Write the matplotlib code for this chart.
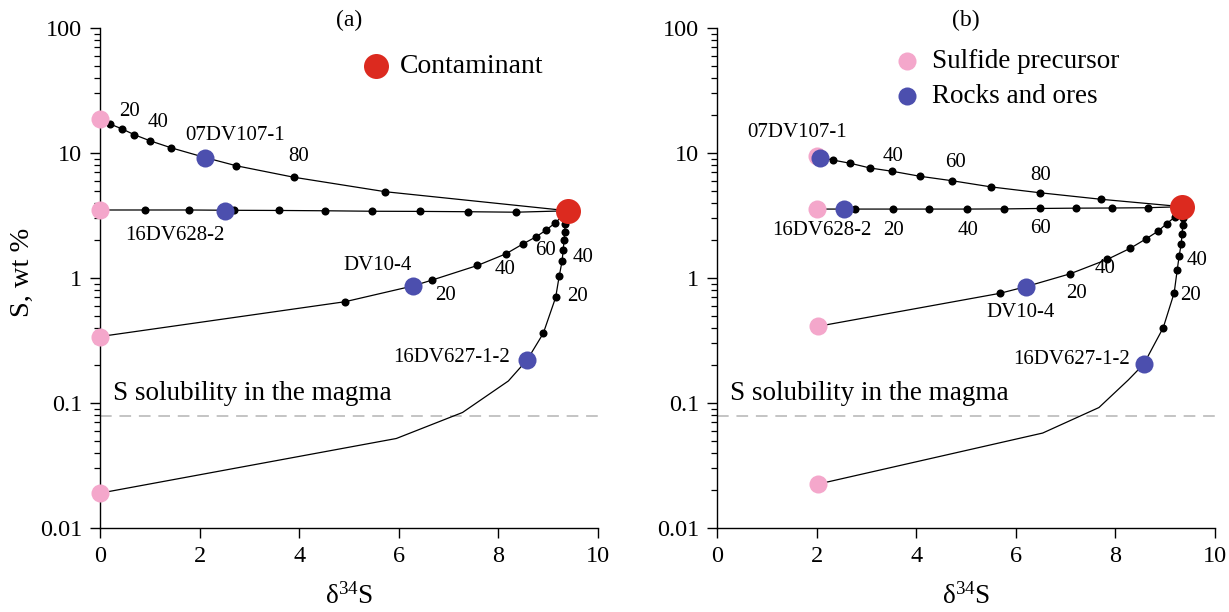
import matplotlib
matplotlib.use("Agg")
import matplotlib.pyplot as plt
from matplotlib.ticker import FixedLocator, LogLocator, NullFormatter

plt.rcParams['font.family'] = ['Liberation Serif', 'DejaVu Serif']
plt.rcParams['mathtext.fontset'] = 'custom'
plt.rcParams['mathtext.rm'] = 'Liberation Serif'
plt.rcParams['mathtext.it'] = 'Liberation Serif:italic'

PINK = '#f4a7cb'
BLUE = '#4c4fae'
RED = '#dc2a1f'

# ---------------- panel (a) data ----------------
a_pre_x = [0, 0, 0, 0]
a_pre_y = [18.7, 3.5, 0.34, 0.019]
a_smp_names = ['07DV107-1', '16DV628-2', 'DV10-4', '16DV627-1-2']
a_smp_x = [2.11, 2.51, 6.28, 8.58]
a_smp_y = [9.2, 3.45, 0.863, 0.222]
a_con_x = [9.4]
a_con_y = [3.45]

a_l1_x = [0, 0.21, 0.44, 0.69, 1.01, 1.43, 2.11, 2.74, 3.89, 5.73, 9.4]
a_l1_y = [18.7, 17.0, 15.6, 14.0, 12.5, 11.0, 9.2, 7.9, 6.4, 4.9, 3.45]
a_d1_x = [0.21, 0.44, 0.69, 1.01, 1.43, 2.74, 3.89, 5.73]
a_d1_y = [17.0, 15.6, 14.0, 12.5, 11.0, 7.9, 6.4, 4.9]

a_l2_x = [0, 0.91, 1.79, 2.69, 3.59, 4.52, 5.46, 6.43, 7.39, 8.35, 9.4]
a_l2_y = [3.5, 3.5, 3.5, 3.48, 3.47, 3.45, 3.42, 3.41, 3.39, 3.36, 3.45]
a_d2_x = [0.91, 1.79, 2.69, 3.59, 4.52, 5.46, 6.43, 7.39, 8.35]
a_d2_y = [3.5, 3.5, 3.48, 3.47, 3.45, 3.42, 3.41, 3.39, 3.36]

a_l3_x = [0, 4.92, 6.28, 6.67, 7.58, 8.15, 8.49, 8.76, 8.96, 9.13, 9.4]
a_l3_y = [0.34, 0.646, 0.863, 0.963, 1.26, 1.56, 1.87, 2.14, 2.42, 2.74, 3.45]
a_d3_x = [4.92, 6.67, 7.58, 8.15, 8.49, 8.76, 8.96, 9.13]
a_d3_y = [0.646, 0.963, 1.26, 1.56, 1.87, 2.14, 2.42, 2.74]

a_l4_x = [0, 5.95, 7.28, 8.2, 8.58, 8.90, 9.15, 9.22, 9.28, 9.30, 9.32, 9.33, 9.34, 9.4]
a_l4_y = [0.019, 0.052, 0.084, 0.15, 0.222, 0.36, 0.70, 1.03, 1.37, 1.67, 2.01, 2.35, 2.69, 3.45]
a_d4_x = [8.90, 9.15, 9.22, 9.28, 9.30, 9.32, 9.33, 9.34]
a_d4_y = [0.36, 0.70, 1.03, 1.37, 1.67, 2.01, 2.35, 2.69]

# ---------------- panel (b) data ----------------
b_pre_x = [2.0, 2.0, 2.02, 2.02]
b_pre_y = [9.5, 3.56, 0.41, 0.0224]
b_smp_names = ['07DV107-1', '16DV628-2', 'DV10-4', '16DV627-1-2']
b_smp_x = [2.07, 2.55, 6.2, 8.57]
b_smp_y = [9.2, 3.56, 0.852, 0.205]
b_con_x = [9.34]
b_con_y = [3.72]

b_l1_x = [2.0, 2.32, 2.68, 3.07, 3.52, 4.08, 4.72, 5.51, 6.48, 7.72, 9.34]
b_l1_y = [9.4, 8.79, 8.27, 7.59, 7.14, 6.51, 6.0, 5.35, 4.81, 4.26, 3.72]
b_d1_x = [2.32, 2.68, 3.07, 3.52, 4.08, 4.72, 5.51, 6.48, 7.72]
b_d1_y = [8.79, 8.27, 7.59, 7.14, 6.51, 6.0, 5.35, 4.81, 4.26]

b_l2_x = [2.0, 2.77, 3.53, 4.26, 5.02, 5.76, 6.49, 7.21, 7.93, 8.65, 9.34]
b_l2_y = [3.56, 3.56, 3.56, 3.56, 3.56, 3.57, 3.6, 3.62, 3.63, 3.65, 3.72]
b_d2_x = [2.77, 3.53, 4.26, 5.02, 5.76, 6.49, 7.21, 7.93, 8.65]
b_d2_y = [3.56, 3.56, 3.56, 3.56, 3.57, 3.6, 3.62, 3.63, 3.65]

b_l3_x = [2.02, 5.68, 6.2, 7.09, 7.84, 8.30, 8.61, 8.85, 9.03, 9.2, 9.34]
b_l3_y = [0.41, 0.754, 0.852, 1.08, 1.41, 1.73, 2.05, 2.36, 2.72, 3.09, 3.72]
b_d3_x = [5.68, 7.09, 7.84, 8.30, 8.61, 8.85, 9.03, 9.2]
b_d3_y = [0.754, 1.08, 1.41, 1.73, 2.05, 2.36, 2.72, 3.09]

b_l4_x = [2.02, 6.54, 7.67, 8.26, 8.57, 8.96, 9.18, 9.24, 9.28, 9.32, 9.34, 9.35, 9.36, 9.34]
b_l4_y = [0.0224, 0.0575, 0.092, 0.153, 0.205, 0.40, 0.76, 1.15, 1.5, 1.86, 2.25, 2.65, 3.0, 3.72]
b_d4_x = [8.96, 9.18, 9.24, 9.28, 9.32, 9.34, 9.35, 9.36]
b_d4_y = [0.40, 0.76, 1.15, 1.5, 1.86, 2.25, 2.65, 3.0]

S_SOLUBILITY = 0.078

xticks = [0, 2, 4, 6, 8, 10]
yticks = [0.01, 0.1, 1, 10, 100]
yticklabels = ['0.01', '0.1', '1', '10', '100']

# text labels: (text, x, y, ha)
a_labels = [('20', 0.6, 21.3, 'center'), ('40', 1.16, 17.7, 'center'),
            ('07DV107-1', 2.71, 13.9, 'center'), ('80', 3.98, 9.3, 'center'),
            ('16DV628-2', 1.51, 2.17, 'center'), ('DV10-4', 5.58, 1.27, 'center'),
            ('20', 6.93, 0.72, 'center'), ('40', 8.13, 1.16, 'center'),
            ('60', 8.94, 1.67, 'center'), ('40', 9.70, 1.47, 'center'),
            ('20', 9.58, 0.705, 'center'), ('16DV627-1-2', 8.23, 0.233, 'right')]
b_labels = [('07DV107-1', 1.61, 14.5, 'center'), ('40', 3.53, 9.3, 'center'),
            ('60', 4.78, 8.47, 'center'), ('80', 6.49, 6.55, 'center'),
            ('16DV628-2', 2.11, 2.42, 'center'), ('20', 3.55, 2.42, 'center'),
            ('40', 5.04, 2.42, 'center'), ('60', 6.5, 2.51, 'center'),
            ('DV10-4', 6.10, 0.525, 'center'), ('20', 7.21, 0.745, 'center'),
            ('40', 7.79, 1.2, 'center'), ('40', 9.64, 1.39, 'center'),
            ('20', 9.5, 0.73, 'center'), ('16DV627-1-2', 8.29, 0.221, 'right')]

fig = plt.figure(figsize=(12.29, 6.12), dpi=100)
ax_a = fig.add_axes([100 / 1229, 1 - 528 / 612, 498 / 1229, 500 / 612])
ax_b = fig.add_axes([717 / 1229, 1 - 528 / 612, 498 / 1229, 500 / 612])

LW = 0.9
DOT = 5.8
BIG = 13
RBIG = 18
LABEL_FS = 15


def draw(ax, lines, dots, pre, smp, con, labels):
    for lx, ly in lines:
        ax.plot(lx, ly, color='black', lw=LW, zorder=2)
    for dx, dy in dots:
        ax.plot(dx, dy, 'o', color='black', ms=DOT, mec='none', zorder=3)
    ax.plot(pre[0], pre[1], 'o', color=PINK, ms=BIG, mec='none', zorder=4, clip_on=False)
    ax.plot(smp[0], smp[1], 'o', color=BLUE, ms=BIG, mec='none', zorder=5, clip_on=False)
    ax.plot(con[0], con[1], 'o', color=RED, ms=RBIG, mec='none', zorder=6, clip_on=False)
    ax.axhline(S_SOLUBILITY, color='#c4c4c4', lw=1.4, ls=(0, (6, 4)), zorder=1)
    ax.text(0.26, 0.12, 'S solubility in the magma', fontsize=19.5, ha='left', va='center')
    for t, x, y, ha in labels:
        ax.text(x, y, t, fontsize=LABEL_FS, ha=ha, va='center')
    ax.set_yscale('log')
    ax.set_xlim(0, 10)
    ax.set_ylim(0.01, 100)
    ax.xaxis.set_major_locator(FixedLocator(xticks))
    ax.set_xticklabels([str(v) for v in xticks])
    ax.yaxis.set_major_locator(FixedLocator(yticks))
    ax.set_yticklabels(yticklabels)
    ax.yaxis.set_minor_locator(LogLocator(base=10, subs=range(2, 10)))
    ax.yaxis.set_minor_formatter(NullFormatter())
    for s in ['top', 'right']:
        ax.spines[s].set_visible(False)
    for s in ['left', 'bottom']:
        ax.spines[s].set_linewidth(1.0)
    ax.tick_params(axis='both', which='major', direction='out', length=7, width=1.0,
                   labelsize=17.5, pad=6)
    ax.tick_params(axis='y', which='minor', direction='out', length=4, width=0.9)
    ax.tick_params(axis='x', which='minor', length=0)


draw(ax_a,
     [(a_l1_x, a_l1_y), (a_l2_x, a_l2_y), (a_l3_x, a_l3_y), (a_l4_x, a_l4_y)],
     [(a_d1_x, a_d1_y), (a_d2_x, a_d2_y), (a_d3_x, a_d3_y), (a_d4_x, a_d4_y)],
     (a_pre_x, a_pre_y), (a_smp_x, a_smp_y), (a_con_x, a_con_y), a_labels)
draw(ax_b,
     [(b_l1_x, b_l1_y), (b_l2_x, b_l2_y), (b_l3_x, b_l3_y), (b_l4_x, b_l4_y)],
     [(b_d1_x, b_d1_y), (b_d2_x, b_d2_y), (b_d3_x, b_d3_y), (b_d4_x, b_d4_y)],
     (b_pre_x, b_pre_y), (b_smp_x, b_smp_y), (b_con_x, b_con_y), b_labels)

# legends
ax_a.plot([5.55], [49.5], 'o', color=RED, ms=RBIG, mec='none')
ax_a.text(6.02, 49.5, 'Contaminant', fontsize=20, ha='left', va='center')
ax_b.plot([3.81], [54.0], 'o', color=PINK, ms=BIG, mec='none')
ax_b.text(4.31, 54.0, 'Sulfide precursor', fontsize=19.5, ha='left', va='center')
ax_b.plot([3.81], [28.5], 'o', color=BLUE, ms=BIG, mec='none')
ax_b.text(4.31, 28.5, 'Rocks and ores', fontsize=19.5, ha='left', va='center')

fig.text(349 / 1229, 1 - 20 / 612, '(a)', fontsize=17, ha='center', va='center')
fig.text(966 / 1229, 1 - 20 / 612, '(b)', fontsize=17, ha='center', va='center')
fig.text(22 / 1229, 1 - 272 / 612, 'S, wt %', fontsize=20.5, rotation=90,
         ha='center', va='center')
fig.text(349 / 1229, 1 - 596 / 612, 'δ$^{34}$S', fontsize=19.5, ha='center', va='center')
fig.text(966 / 1229, 1 - 596 / 612, 'δ$^{34}$S', fontsize=19.5, ha='center', va='center')

fig.savefig('out.png', dpi=100)
